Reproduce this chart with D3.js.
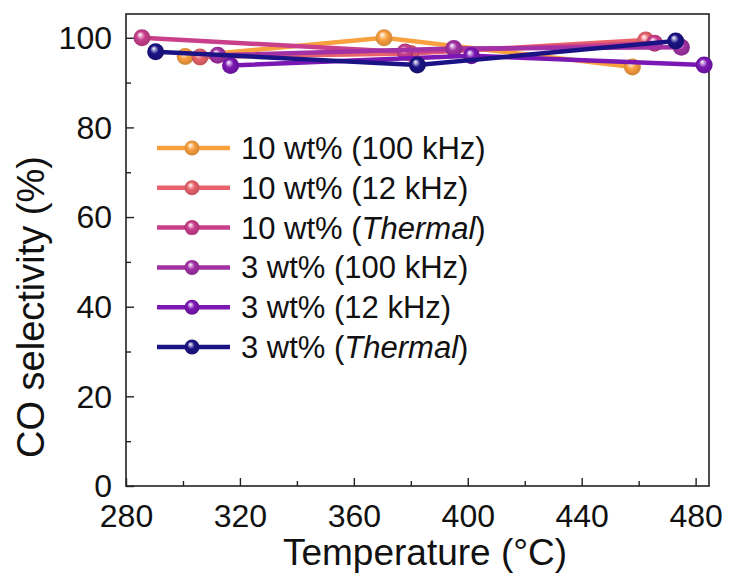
<!DOCTYPE html>
<html>
<head>
<meta charset="utf-8">
<script src="https://cdn.jsdelivr.net/npm/d3@7"></script>
<style>
  body { margin: 0; background: #fff; }
  text { font-family: "Liberation Sans", Arial, Helvetica, sans-serif; fill: #111; }
</style>
</head>
<body>
<svg id="chart" width="729" height="577"></svg>
<script>
// series data (temperature in °C, CO selectivity in %)
const seriesNames = ['10 wt% (100 kHz)', '10 wt% (12 kHz)', '10 wt% (Thermal)',
                     '3 wt% (100 kHz)', '3 wt% (12 kHz)', '3 wt% (Thermal)'];
const seriesColors = ['#f9a03f', '#e8636b', '#c93f8c', '#a231a5', '#7b17b3', '#1b1385'];
const tempsOrange = [300.8, 370.6, 457.8];
const valsOrange = [95.8, 100.0, 93.5];
const tempsCoral = [306, 380, 462.5];
const valsCoral = [95.7, 96.5, 99.5];
const tempsPink = [285.6, 378, 465.6];
const valsPink = [100.0, 96.8, 98.8];
const tempsMagenta = [312.2, 395.1, 475];
const valsMagenta = [96.1, 97.6, 97.9];
const tempsPurple = [316.7, 401.3, 483];
const valsPurple = [93.8, 96.0, 93.9];
const tempsNavy = [290.4, 382.3, 473];
const valsNavy = [96.9, 93.9, 99.3];
const xTicks = [280, 320, 360, 400, 440, 480];
const yTicks = [0, 20, 40, 60, 80, 100];

const allTemps = [tempsOrange, tempsCoral, tempsPink, tempsMagenta, tempsPurple, tempsNavy];
const allVals = [valsOrange, valsCoral, valsPink, valsMagenta, valsPurple, valsNavy];

const svg = d3.select('#chart');
const plotLeft = 126, plotRight = 709, plotTop = 14, plotBottom = 486;

const x = d3.scaleLinear().domain([280, 484.7]).range([plotLeft, plotRight]);
const y = d3.scaleLinear().domain([0, 105.3]).range([plotBottom, plotTop]);

// radial gradients for the shiny markers
const defs = svg.append('defs');
seriesColors.forEach((c, i) => {
    const g = defs.append('radialGradient')
        .attr('id', 'ball' + i)
        .attr('cx', '50%').attr('cy', '50%').attr('r', '55%')
        .attr('fx', '38%').attr('fy', '30%');
    g.append('stop').attr('offset', '0%').attr('stop-color', '#ffffff');
    g.append('stop').attr('offset', '45%').attr('stop-color', c);
    g.append('stop').attr('offset', '100%').attr('stop-color', d3.color(c).darker(0.6));
});

// axes
const xAxis = d3.axisBottom(x).tickValues(d3.range(280, 481, 20))
    .tickSize(-7).tickFormat(d => xTicks.includes(d) ? d : '');
const gx = svg.append('g').attr('transform', `translate(0,${plotBottom})`).call(xAxis);
gx.selectAll('.tick line').attr('y2', d => xTicks.includes(d) ? -8 : -5);

const yAxis = d3.axisLeft(y).tickValues(d3.range(0, 101, 10))
    .tickSize(-7).tickFormat(d => yTicks.includes(d) ? d : '');
const gy = svg.append('g').attr('transform', `translate(${plotLeft},0)`).call(yAxis);
gy.selectAll('.tick line').attr('x2', d => yTicks.includes(d) ? 8 : 5);

[gx, gy].forEach(g => {
    g.select('.domain').remove();
    g.selectAll('.tick line').attr('stroke', '#222').attr('stroke-width', 1.4);
    g.selectAll('.tick text').style('font-size', '32px')
        .style('font-family', '"Liberation Sans", Arial, sans-serif').attr('fill', '#111');
});
gx.selectAll('.tick text').attr('dy', 0).attr('y', 41);
gy.selectAll('.tick text').attr('x', -14).attr('dy', '0.34em');

// frame
svg.append('rect')
    .attr('x', plotLeft).attr('y', plotTop)
    .attr('width', plotRight - plotLeft).attr('height', plotBottom - plotTop)
    .attr('fill', 'none').attr('stroke', '#222').attr('stroke-width', 1.6);

// lines and markers
const line = d3.line().x(d => x(d[0])).y(d => y(d[1]));
allTemps.forEach((temps, i) => {
    const pts = temps.map((t, k) => [t, allVals[i][k]]);
    svg.append('path').datum(pts)
        .attr('d', line)
        .attr('fill', 'none')
        .attr('stroke', seriesColors[i])
        .attr('stroke-width', 4.5);
    svg.selectAll(null).data(pts).enter().append('circle')
        .attr('cx', d => x(d[0])).attr('cy', d => y(d[1]))
        .attr('r', 8.5)
        .attr('fill', `url(#ball${i})`);
});

// legend
const legend = svg.append('g');
seriesNames.forEach((name, i) => {
    const ly = 148 + i * 39.8;
    legend.append('line')
        .attr('x1', 157).attr('x2', 230).attr('y1', ly).attr('y2', ly)
        .attr('stroke', seriesColors[i]).attr('stroke-width', 4.5);
    legend.append('circle').attr('cx', 192).attr('cy', ly).attr('r', 7.5)
        .attr('fill', `url(#ball${i})`);
    const t = legend.append('text').attr('x', 241).attr('y', ly + 11)
        .style('font-size', '31px');
    const m = name.match(/^(.*\()Thermal(\))$/);
    if (m) {
        t.append('tspan').text(m[1]);
        t.append('tspan').style('font-style', 'italic').text('Thermal');
        t.append('tspan').text(m[2]);
    } else {
        t.text(name);
    }
});

// axis titles
svg.append('text')
    .attr('x', 425).attr('y', 565)
    .attr('text-anchor', 'middle')
    .style('font-size', '37px')
    .text('Temperature (°C)');

svg.append('text')
    .attr('transform', 'translate(44,307) rotate(-90)')
    .attr('text-anchor', 'middle')
    .style('font-size', '38px')
    .text('CO selectivity (%)');
</script>
</body>
</html>
